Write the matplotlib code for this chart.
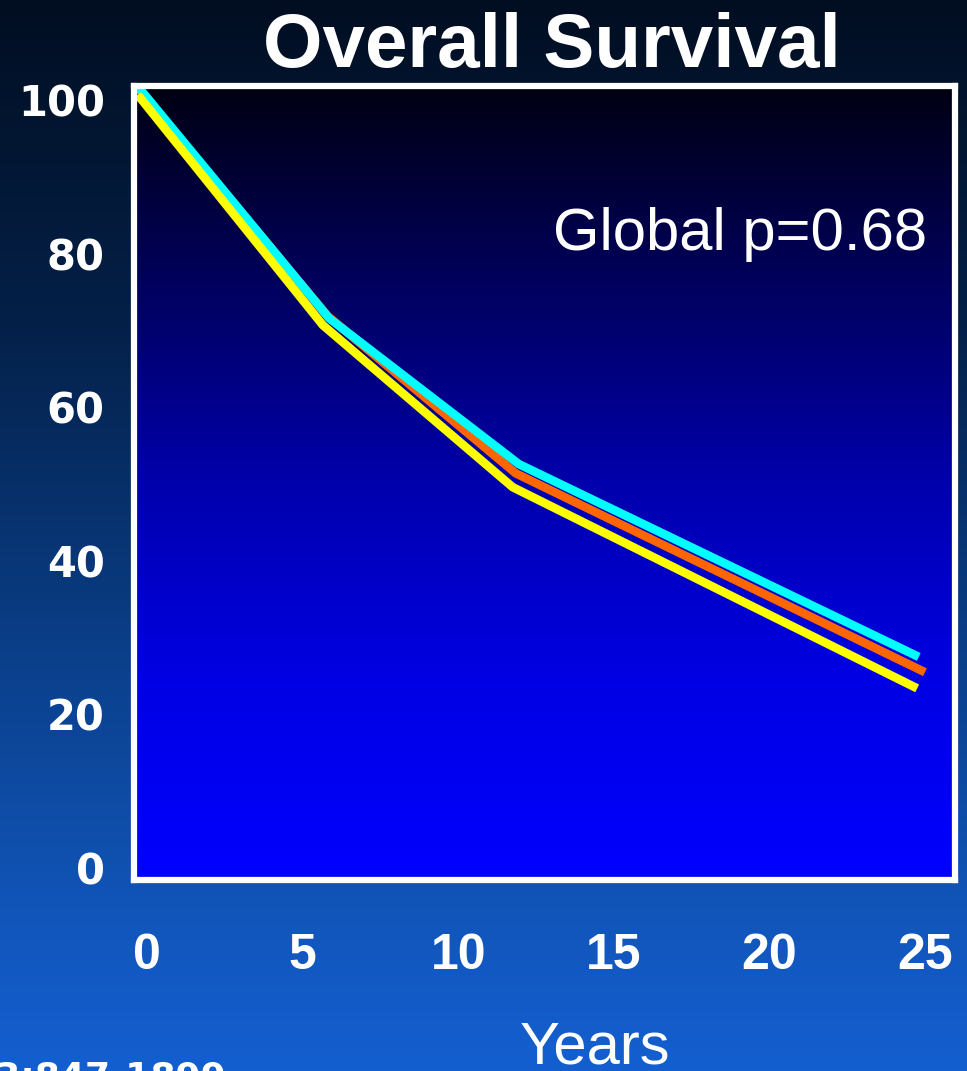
import numpy as np
import matplotlib.pyplot as plt
from matplotlib.colors import LinearSegmentedColormap

# survival curves (y in the slide's own tick scale)
years_cyan = [-0.3, 5.85, 11.95, 24.8]
surv_cyan = [101.8, 71.6, 52.6, 27.5]
years_orange = [-0.3, 5.8, 11.85, 25.0]
surv_orange = [101.6, 71.9, 51.4, 25.5]
years_yellow = [-0.3, 5.65, 11.75, 24.75]
surv_yellow = [100.7, 70.7, 49.6, 23.4]

x_ticks = [0, 5, 10, 15, 20, 25]
y_ticks = [0, 20, 40, 60, 80, 100]

fig = plt.figure(figsize=(9.67, 10.71), dpi=100)

# slide background gradient
bg = fig.add_axes([0, 0, 1, 1], zorder=-10)
bg_cmap = LinearSegmentedColormap.from_list(
    "bg",
    [(0.0, (1/255, 14/255, 33/255)),
     (0.3, (4/255, 32/255, 72/255)),
     (0.6, (10/255, 62/255, 135/255)),
     (0.85, (17/255, 85/255, 185/255)),
     (1.0, (20/255, 95/255, 208/255))])
bg.imshow(np.linspace(0, 1, 256).reshape(-1, 1), cmap=bg_cmap, aspect="auto",
          extent=[0, 1, 0, 1], origin="upper")
bg.set_axis_off()

ax = fig.add_axes([0.1386, 0.1783, 0.8485, 0.7418])
xlim = (-0.42, 25.95)
ylim = (-1.56, 101.9)
ax_cmap = LinearSegmentedColormap.from_list(
    "ax",
    [(0.0, (0, 0, 18/255)),
     (0.33, (0, 0, 118/255)),
     (0.5, (0, 0, 172/255)),
     (0.75, (0, 0, 228/255)),
     (1.0, (0, 0, 1))])
ax.imshow(np.linspace(0, 1, 256).reshape(-1, 1), cmap=ax_cmap, aspect="auto",
          extent=[xlim[0], xlim[1], ylim[0], ylim[1]], origin="upper", zorder=0)

ax.plot(years_orange, surv_orange, color="#ff6600", lw=6.2, solid_capstyle="butt",
        solid_joinstyle="miter", zorder=2)
ax.plot(years_cyan, surv_cyan, color="#00ffff", lw=6.2, solid_capstyle="butt",
        solid_joinstyle="miter", zorder=3)
ax.plot(years_yellow, surv_yellow, color="#ffff00", lw=6.2, solid_capstyle="butt",
        solid_joinstyle="miter", zorder=4)

ax.set_xlim(*xlim)
ax.set_ylim(*ylim)
for s in ax.spines.values():
    s.set_color("white")
    s.set_linewidth(4.5)
    s.set_zorder(5)

ax.set_xticks(x_ticks)
ax.set_yticks(y_ticks)
ax.set_xticklabels([str(v) for v in x_ticks], fontfamily="Liberation Sans",
                   fontweight="bold", fontsize=36, color="white")
ax.set_yticklabels([str(v) for v in y_ticks], fontfamily="DejaVu Sans",
                   fontweight="bold", fontsize=30, color="white")
ax.tick_params(axis="x", length=0, pad=38)
ax.tick_params(axis="y", length=0, pad=21)

ax.text(0.967, 0.812, "Global p=0.68", transform=ax.transAxes, ha="right",
        va="center", fontsize=43, color="white", fontfamily="Liberation Sans")

fig.text(552 / 967, 1 - 48 / 1071, "Overall Survival", ha="center", va="center",
         fontsize=55, fontweight="bold", color="white", fontfamily="Liberation Sans")
fig.text(595 / 967, 1 - 1064 / 1071, "Years", ha="center", va="baseline",
         fontsize=43, color="white", fontfamily="Liberation Sans")
fig.text(227 / 967, 1 - 1061 / 1071, "113:847-1899", ha="right", va="top",
         fontsize=26, fontweight="bold", color="white", fontfamily="DejaVu Sans")

fig.savefig("out.png", dpi=100)
